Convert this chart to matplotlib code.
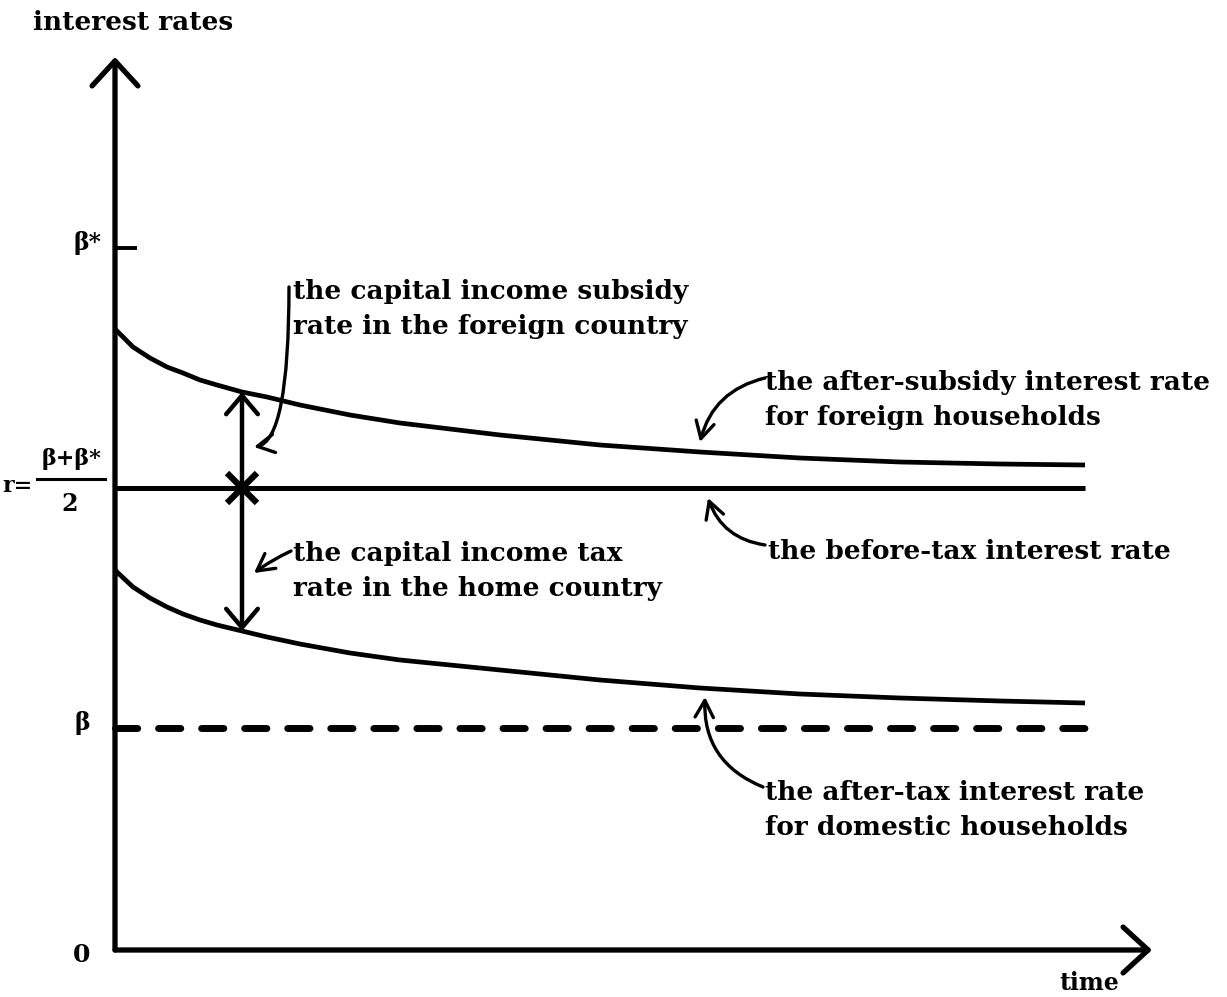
import matplotlib
matplotlib.use("Agg")
import matplotlib.pyplot as plt

# ---------------- data ----------------
beta = 2.22
beta_star = 7.02
r_rate = (beta + beta_star) / 2

t_curve = [0, 0.03, 0.18, 0.35, 0.52, 0.68, 0.85, 1.02, 1.27, 1.52, 1.85, 2.35, 2.85,
           3.85, 4.85, 5.85, 6.85, 7.85, 8.85, 9.7]
after_subsidy = [6.21, 6.18, 6.03, 5.92, 5.83, 5.77, 5.70, 5.65, 5.58, 5.53, 5.45, 5.35, 5.27,
                 5.15, 5.05, 4.98, 4.92, 4.88, 4.86, 4.85]
after_tax = [3.80, 3.77, 3.63, 3.52, 3.43, 3.36, 3.30, 3.25, 3.19, 3.13, 3.06, 2.97, 2.90,
             2.80, 2.70, 2.62, 2.56, 2.52, 2.49, 2.47]
t_end = 9.7
gap_index = 8          # time at which the wedges are marked
y_top = 8.93
x_right = 10.37

# ---------------- figure ----------------
fig = plt.figure(figsize=(12.27, 9.97), dpi=100)
ax = fig.add_axes([0, 0, 1, 1])
ax.set_xlim(-1.15, 11.12)
ax.set_ylim(-0.47, 9.50)
ax.axis("off")

FONT = dict(family="DejaVu Serif", fontweight="bold", color="black")
fs = 19
K = "black"

# axes arrows
axis_arrow = dict(arrowstyle="->,head_length=0.6,head_width=0.55", lw=3.8, color=K,
                  shrinkA=0, shrinkB=0, mutation_scale=30)
ax.annotate("", xy=(0, y_top), xytext=(0, 0), arrowprops=axis_arrow)
ax.annotate("", xy=(x_right, 0), xytext=(0, 0), arrowprops=axis_arrow)

# beta* tick
ax.plot([0, 0.22], [beta_star, beta_star], color=K, lw=2.8, solid_capstyle="butt")

# lines
ax.plot(t_curve, after_subsidy, color=K, lw=3.4, solid_capstyle="butt", solid_joinstyle="round")
ax.plot(t_curve, after_tax, color=K, lw=3.4, solid_capstyle="butt", solid_joinstyle="round")
ax.plot([0, t_end], [r_rate, r_rate], color=K, lw=3.6, solid_capstyle="butt")
ax.plot([0, t_end], [beta, beta], color=K, lw=5.0, linestyle=(0, (3.2, 3.0)),
        dash_capstyle="round")

# wedge arrows
tg = t_curve[gap_index]
wedge = dict(arrowstyle="->,head_length=0.45,head_width=0.38", lw=3.2, color=K,
             shrinkA=0, shrinkB=0, mutation_scale=30)
ax.annotate("", xy=(tg, after_subsidy[gap_index]), xytext=(tg, r_rate), arrowprops=wedge)
ax.annotate("", xy=(tg, after_tax[gap_index]), xytext=(tg, r_rate), arrowprops=wedge)
ax.plot([tg], [r_rate], marker="x", markersize=22, mew=4.5, color=K)

# axis labels
ax.text(-0.82, 9.28, "interest rates", ha="left", va="center", fontsize=fs, **FONT)
ax.text(9.74, -0.33, "time", ha="center", va="center", fontsize=17, **FONT)
ax.text(-0.28, beta_star + 0.05, "β*", ha="center", va="center", fontsize=17, **FONT)
ax.text(-0.33, beta + 0.05, "β", ha="center", va="center", fontsize=17, **FONT)
ax.text(-0.33, -0.05, "0", ha="center", va="center", fontsize=18, **FONT)
ax.text(-0.97, r_rate + 0.02, "r=", ha="center", va="center", fontsize=16, **FONT)
ax.text(-0.43, r_rate + 0.29, "β+β*", ha="center", va="center", fontsize=16, **FONT)
ax.text(-0.45, r_rate - 0.16, "2", ha="center", va="center", fontsize=17, **FONT)
ax.plot([-0.78, -0.10], [r_rate + 0.09, r_rate + 0.09], color=K, lw=2.2)

# annotations
ls = 1.5
arrow_kw = dict(arrowstyle="->,head_length=0.55,head_width=0.3", lw=2.4, color=K,
                shrinkA=0, shrinkB=0, mutation_scale=22)

ax.text(1.78, 6.41, "the capital income subsidy\nrate in the foreign country",
        ha="left", va="center", fontsize=fs, linespacing=ls, **FONT)
ax.annotate("", xy=(1.39, 5.03), xytext=(1.74, 6.63),
            arrowprops=dict(connectionstyle="angle3,angleA=90,angleB=10", **arrow_kw))

ax.text(1.78, 3.79, "the capital income tax\nrate in the home country",
        ha="left", va="center", fontsize=fs, linespacing=ls, **FONT)
ax.annotate("", xy=(1.39, 3.77), xytext=(1.76, 3.99),
            arrowprops=dict(connectionstyle="arc3,rad=0.05", **arrow_kw))

ax.text(6.50, 5.50, "the after-subsidy interest rate\nfor foreign households",
        ha="left", va="center", fontsize=fs, linespacing=ls, **FONT)
ax.annotate("", xy=(5.85, 5.08), xytext=(6.50, 5.72),
            arrowprops=dict(connectionstyle="arc3,rad=0.3", **arrow_kw))

ax.text(6.53, 3.99, "the before-tax interest rate",
        ha="left", va="center", fontsize=fs, **FONT)
ax.annotate("", xy=(5.93, 4.52), xytext=(6.50, 4.05),
            arrowprops=dict(connectionstyle="arc3,rad=-0.3", **arrow_kw))

ax.text(6.50, 1.40, "the after-tax interest rate\nfor domestic households",
        ha="left", va="center", fontsize=fs, linespacing=ls, **FONT)
ax.annotate("", xy=(5.90, 2.53), xytext=(6.48, 1.63),
            arrowprops=dict(connectionstyle="arc3,rad=-0.35", **arrow_kw))

fig.savefig("out.png", dpi=100, facecolor="white")
